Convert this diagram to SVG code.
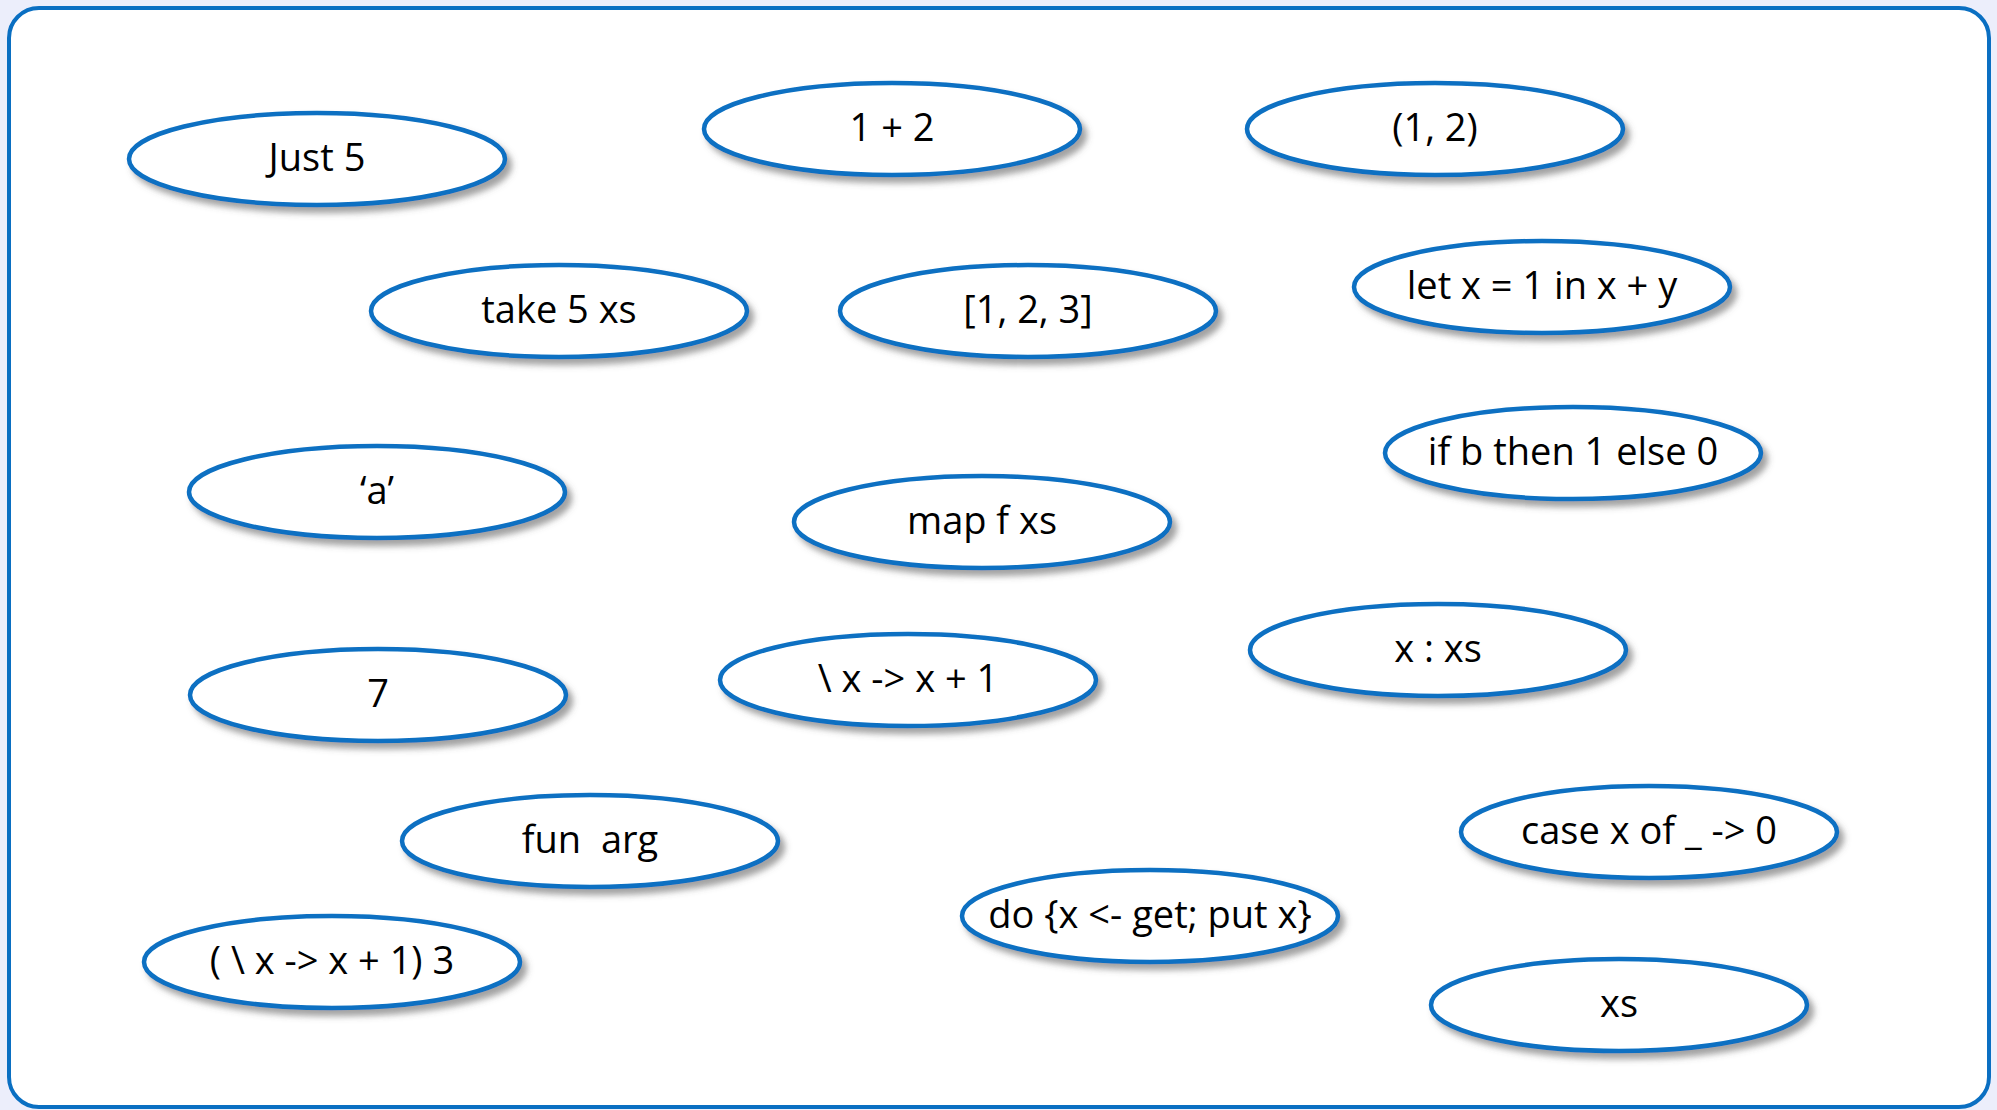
<svg xmlns="http://www.w3.org/2000/svg" width="1997" height="1110" viewBox="0 0 1997 1110">
<defs>
<filter id="sh" x="-10%" y="-20%" width="125%" height="150%">
<feDropShadow dx="5" dy="6" stdDeviation="3" flood-color="#555" flood-opacity="0.55"/>
</filter>
<style>
.n ellipse{fill:#fff;stroke:#0a6fc2;stroke-width:4.5;filter:url(#sh)}
.n text{font-family:"Open Sans","DejaVu Sans",sans-serif;font-size:38px;fill:#000;text-anchor:middle;dominant-baseline:central;white-space:pre}
</style>
</defs>
<rect x="0" y="0" width="1997" height="1110" fill="#eceefb"/>
<rect x="9" y="8" width="1980" height="1099" rx="30" ry="30" fill="#fff" stroke="#0a6fc2" stroke-width="4"/>
<g id="connectors"></g>
<g id="n1" class="n"><ellipse cx="317" cy="159" rx="188" ry="46"/><text x="317" y="156">Just 5</text></g>
<g id="n2" class="n"><ellipse cx="892" cy="129" rx="188" ry="46"/><text x="892" y="126">1 + 2</text></g>
<g id="n3" class="n"><ellipse cx="1435" cy="129" rx="188" ry="46"/><text x="1435" y="126">(1, 2)</text></g>
<g id="n4" class="n"><ellipse cx="559" cy="311" rx="188" ry="46"/><text x="559" y="308">take 5 xs</text></g>
<g id="n5" class="n"><ellipse cx="1028" cy="311" rx="188" ry="46"/><text x="1028" y="308">[1, 2, 3]</text></g>
<g id="n6" class="n"><ellipse cx="1542" cy="287" rx="188" ry="46"/><text x="1542" y="284">let x = 1 in x + y</text></g>
<g id="n7" class="n"><ellipse cx="377" cy="492" rx="188" ry="46"/><text x="377" y="489">‘a’</text></g>
<g id="n8" class="n"><ellipse cx="982" cy="522" rx="188" ry="46"/><text x="982" y="519">map f xs</text></g>
<g id="n9" class="n"><ellipse cx="1573" cy="453" rx="188" ry="46"/><text x="1573" y="450">if b then 1 else 0</text></g>
<g id="n10" class="n"><ellipse cx="378" cy="695" rx="188" ry="46"/><text x="378" y="692">7</text></g>
<g id="n11" class="n"><ellipse cx="908" cy="680" rx="188" ry="46"/><text x="908" y="677">\ x -&gt; x + 1</text></g>
<g id="n12" class="n"><ellipse cx="1438" cy="650" rx="188" ry="46"/><text x="1438" y="647">x : xs</text></g>
<g id="n13" class="n"><ellipse cx="590" cy="841" rx="188" ry="46"/><text x="590" y="838">fun  arg</text></g>
<g id="n14" class="n"><ellipse cx="1649" cy="832" rx="188" ry="46"/><text x="1649" y="829">case x of _ -&gt; 0</text></g>
<g id="n15" class="n"><ellipse cx="1150" cy="916" rx="188" ry="46"/><text x="1150" y="913">do {x &lt;- get; put x}</text></g>
<g id="n16" class="n"><ellipse cx="332" cy="962" rx="188" ry="46"/><text x="332" y="959">( \ x -&gt; x + 1) 3</text></g>
<g id="n17" class="n"><ellipse cx="1619" cy="1005" rx="188" ry="46"/><text x="1619" y="1002">xs</text></g>
</svg>
